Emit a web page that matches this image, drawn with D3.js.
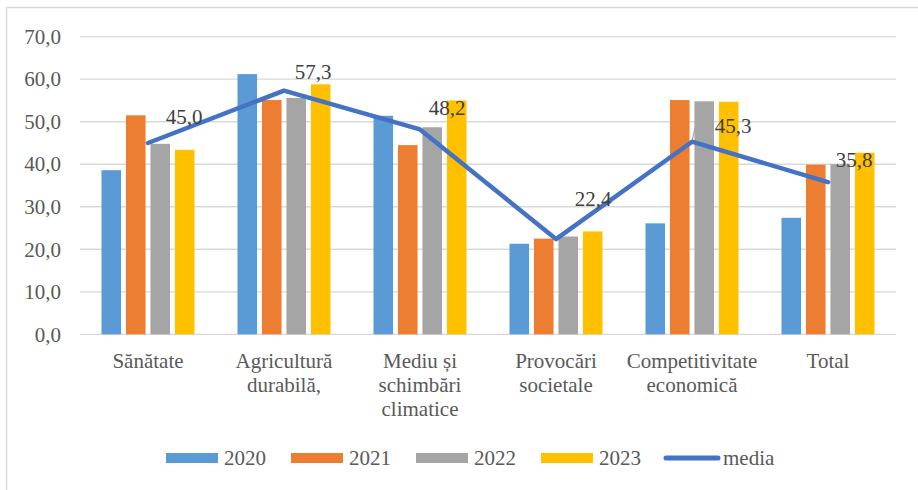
<!DOCTYPE html>
<html>
<head>
<meta charset="utf-8">
<script src="https://cdn.jsdelivr.net/npm/d3@7"></script>
</head>
<body style="margin:0; background:#fff">
<div id="chart"></div>
<script>
// data
const categories = [
  ["Sănătate"],
  ["Agricultură", "durabilă,"],
  ["Mediu și", "schimbări", "climatice"],
  ["Provocări", "societale"],
  ["Competitivitate", "economică"],
  ["Total"],
];
const years = ["2020", "2021", "2022", "2023"];
const values2020 = [38.6, 61.2, 51.4, 21.3, 26.1, 27.4];
const values2021 = [51.5, 55.1, 44.5, 22.5, 55.1, 39.9];
const values2022 = [44.8, 55.6, 48.7, 23.0, 54.8, 40.0];
const values2023 = [43.4, 58.8, 55.0, 24.2, 54.7, 42.7];
const media = [45.0, 57.3, 48.2, 22.4, 45.3, 35.8];
const yTicks = [0, 10, 20, 30, 40, 50, 60, 70];

// label nudges for the media labels (they were dragged by hand in the original)
const labelNudge = [[36, -26], [29, -19], [27, -22], [37, -40], [41, -16], [26, -22]];

const colors = ["#5B9BD5", "#ED7D31", "#A5A5A5", "#FFC000"];
const lineColor = "#4472C4";
const FONT = '"Liberation Serif"';

const W = 918, H = 490;
const margin = { top: 36.7, left: 80, right: 22, bottom: 155.7 };

const svg = d3.select("#chart").append("svg")
  .attr("width", W).attr("height", H);

// chart border
svg.append("rect")
  .attr("x", 6.5).attr("y", 7.5)
  .attr("width", W).attr("height", H)
  .attr("fill", "none")
  .attr("stroke", "#D9D9D9")
  .attr("stroke-width", 1.5);

const keys = categories.map((d, i) => i);
const x = d3.scaleBand().domain(keys).range([margin.left, W - margin.right]);
const x1 = d3.scaleBand().domain(years).range([21.5, x.bandwidth() - 21.5]).paddingInner(0.2);
const y = d3.scaleLinear().domain([0, 70]).range([H - margin.bottom, margin.top]);

// gridlines
svg.append("g")
  .selectAll("line")
  .data(yTicks)
  .join("line")
  .attr("x1", margin.left).attr("x2", W - margin.right)
  .attr("y1", (d) => y(d)).attr("y2", (d) => y(d))
  .attr("stroke", "#D9D9D9")
  .attr("stroke-width", 1.3);

// y axis labels
const yAxis = svg.append("g")
  .attr("transform", `translate(${margin.left - 19}, 0)`)
  .call(d3.axisLeft(y).tickValues(yTicks).tickSize(0).tickPadding(0)
    .tickFormat((d) => d3.format(".1f")(d).replace(".", ",")));
yAxis.attr("font-family", FONT).attr("font-size", 21);
yAxis.select(".domain").remove();
yAxis.selectAll("text")
  .attr("fill", "#595959")
  .style("font-family", FONT)
  .style("font-size", "21px");

// bars
const series = [values2020, values2021, values2022, values2023];
series.forEach((vals, s) => {
  svg.append("g")
    .selectAll("rect")
    .data(vals)
    .join("rect")
    .attr("x", (d, i) => x(i) + x1(years[s]))
    .attr("y", (d) => y(d))
    .attr("width", x1.bandwidth())
    .attr("height", (d) => y(0) - y(d))
    .attr("fill", colors[s]);
});

// leader lines for labels far from their point
const cx = (i) => x(i) + x.bandwidth() / 2;
[3, 4].forEach((i) => {
  const [dx, dy] = labelNudge[i];
  svg.append("line")
    .attr("x1", cx(i)).attr("y1", y(media[i]))
    .attr("x2", i === 3 ? cx(i) + dx + 2 : cx(i) + 4)
    .attr("y2", i === 3 ? y(media[i]) + dy + 13 : y(media[i]) - 19)
    .attr("stroke", "#A6A6A6")
    .attr("stroke-width", 1.2);
});

// media line
const line = d3.line().x((d, i) => cx(i)).y((d) => y(d));
svg.append("path")
  .datum(media)
  .attr("d", line)
  .attr("fill", "none")
  .attr("stroke", lineColor)
  .attr("stroke-width", 4.5)
  .attr("stroke-linecap", "round")
  .attr("stroke-linejoin", "round");

// media labels
svg.append("g")
  .selectAll("text")
  .data(media)
  .join("text")
  .attr("x", (d, i) => cx(i) + labelNudge[i][0])
  .attr("y", (d, i) => y(d) + labelNudge[i][1])
  .attr("dy", "0.35em")
  .attr("text-anchor", "middle")
  .attr("fill", "#404040")
  .style("font-family", FONT)
  .style("font-size", "21px")
  .text((d) => d3.format(".1f")(d).replace(".", ","));

// category labels
const xl = svg.append("g");
categories.forEach((lines, i) => {
  const t = xl.append("text")
    .attr("x", cx(i))
    .attr("y", 367.5)
    .attr("text-anchor", "middle")
    .attr("fill", "#595959")
    .style("font-family", FONT)
    .style("font-size", "21px");
  lines.forEach((l, k) => {
    t.append("tspan").attr("x", cx(i)).attr("dy", k === 0 ? 0 : 24.3).text(l);
  });
});

// legend
const legend = svg.append("g").attr("transform", "translate(0, 458)");
years.forEach((yr, s) => {
  const lx = 166 + s * 125;
  legend.append("rect")
    .attr("x", lx).attr("y", -5)
    .attr("width", 52).attr("height", 10)
    .attr("fill", colors[s]);
  legend.append("text")
    .attr("x", lx + 58).attr("y", 0).attr("dy", "0.35em")
    .attr("fill", "#595959")
    .style("font-family", FONT)
    .style("font-size", "21px")
    .text(yr);
});
legend.append("line")
  .attr("x1", 666).attr("x2", 718)
  .attr("y1", 0).attr("y2", 0)
  .attr("stroke", lineColor)
  .attr("stroke-width", 5)
  .attr("stroke-linecap", "round");
legend.append("text")
  .attr("x", 723).attr("y", 0).attr("dy", "0.35em")
  .attr("fill", "#595959")
  .style("font-family", FONT)
  .style("font-size", "21px")
  .text("media");
</script>
</body>
</html>
